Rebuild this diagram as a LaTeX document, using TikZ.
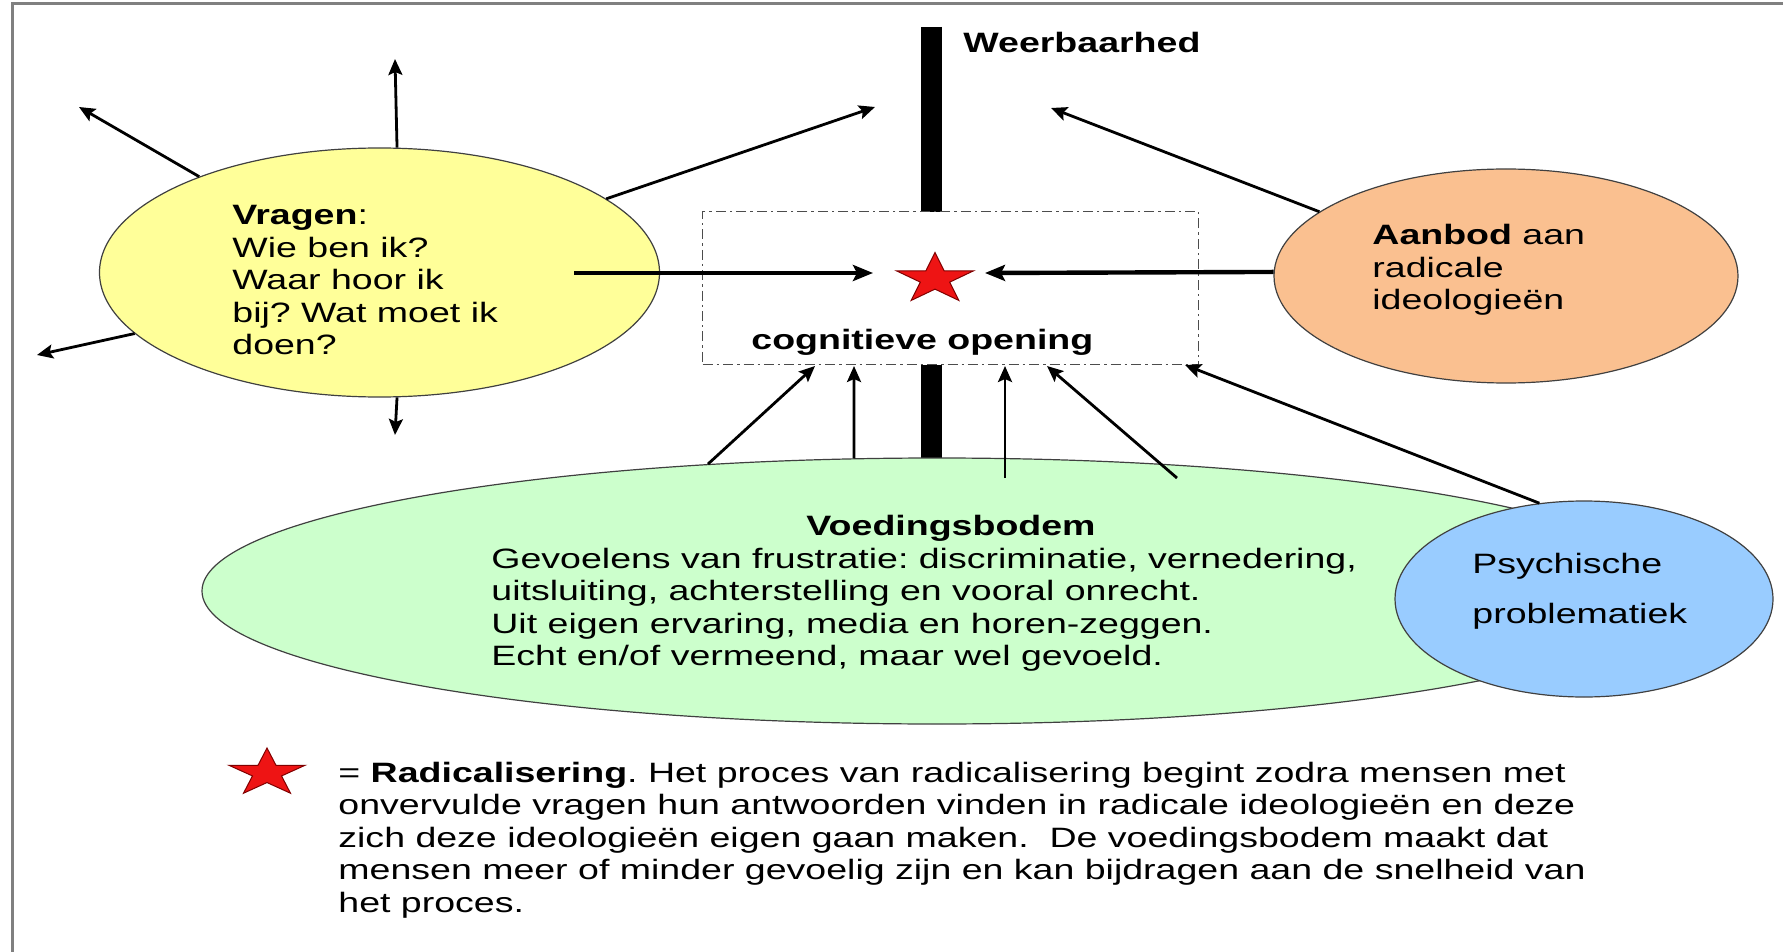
\documentclass[tikz,border=0pt]{standalone}
\usepackage{fontspec}
\setmainfont{Liberation Sans}[FakeStretch=1.34]
\usetikzlibrary{shapes.geometric,arrows.meta}
\definecolor{cyellow}{RGB}{255,255,153}
\definecolor{corange}{RGB}{250,192,144}
\definecolor{cgreen}{RGB}{204,255,204}
\definecolor{cblue}{RGB}{153,204,255}
\definecolor{cstar}{RGB}{238,20,20}
\newcommand\mlines[1]{\begin{tabular}[t]{@{}l@{}}#1\end{tabular}}
\frenchspacing
\begin{document}
\begin{tikzpicture}[x=0.5pt,y=-0.5pt,
  bubble/.style={ellipse, draw=black!75, line width=0.6pt, inner sep=0pt},
  txt/.style={anchor=base west, inner sep=0pt, font=\fontsize{14pt}{16.25pt}\selectfont},
  thinarrow/.style={line width=1.4pt, -{Stealth[length=8pt,width=7pt,inset=1.5pt]}},
  thickarrow/.style={line width=2.2pt, -{Stealth[length=10pt,width=8pt,inset=2pt]}},
  redstar/.style={star, star points=5, star point ratio=2.618, fill=cstar, draw=black!50!red, line width=0.5pt, inner sep=0pt, transform shape},
  dashbox/.style={draw=black!70, line width=0.7pt, dash pattern=on 5pt off 2pt on 1.2pt off 2pt, fill=white, inner sep=0pt, anchor=north west}
]
\useasboundingbox (0,0) rectangle (1783,952);
\draw[gray, line width=1.5pt] (12,952) -- (12,4) -- (1783,4);

% Weerbaarhed bar
\coordinate (bartop) at (931,27);
\coordinate (barbot) at (931,470);
\draw[line width=10.5pt] (bartop) -- (barbot);

% cognitive opening box
\node[dashbox, minimum width=248pt, minimum height=76.5pt] (cog) at (702,211) {};

% star
\begin{scope}[shift={(935,279)}, xscale=1.53]
  \node[redstar, minimum size=26.5pt] (star) at (0,0) {};
\end{scope}

% ellipses
\node[bubble, fill=cyellow, minimum width=280pt, minimum height=124.5pt] (vr) at (379.5,272.5) {};
\node[bubble, fill=corange, minimum width=232pt, minimum height=107pt] (ab) at (1506,276) {};
\node[bubble, fill=cgreen, minimum width=735pt, minimum height=133pt] (vb) at (937,591) {};
\node[bubble, fill=cblue, minimum width=189pt, minimum height=98pt] (ps) at (1584,599) {};

% texts
\node[txt] (weer) at (963,53) {\textbf{Weerbaarhed}};
\node[txt] (vrtext) at (232,225) {\mlines{\textbf{Vragen}:\\ Wie ben ik?\\ Waar hoor ik\\ bij? Wat moet ik\\ doen?}};
\node[txt] (abtext) at (1372,245) {\mlines{\textbf{Aanbod} aan\\ radicale\\ ideologieën}};
\node[txt] (cogtext) at (751,350) {\textbf{cognitieve opening}};
\node[txt, anchor=base] (vbtitle) at (951,535) {\textbf{Voedingsbodem}};
\node[txt] (vbtext) at (491,568) {\mlines{Gevoelens van frustratie: discriminatie, vernedering,\\ uitsluiting, achterstelling en vooral onrecht.\\ Uit eigen ervaring, media en horen-zeggen.\\ Echt en/of vermeend, maar wel gevoeld.}};
\node[txt, font=\fontsize{14pt}{25pt}\selectfont] (pstext) at (1472,573) {\mlines{Psychische\\ problematiek}};

% legend
\begin{scope}[shift={(267,773)}, xscale=1.6]
  \node[redstar, minimum size=25pt] (legstar) at (0,0) {};
\end{scope}
\node[txt] (legend) at (338,782) {\mlines{= \textbf{Radicalisering}. Het proces van radicalisering begint zodra mensen met\\ onvervulde vragen hun antwoorden vinden in radicale ideologieën en deze\\ zich deze ideologieën eigen gaan maken.\ \ De voedingsbodem maakt dat\\ mensen meer of minder gevoelig zijn en kan bijdragen aan de snelheid van\\ het proces.}};

% free ends
\coordinate (eUp) at (395,59);
\coordinate (eUL) at (79,107);
\coordinate (eUR) at (875,107);
\coordinate (eLL) at (37,355);
\coordinate (eDn) at (395,435);
\coordinate (sH) at (574,273);
\coordinate (eH) at (873,273);
\coordinate (eAbUp) at (1051,108);
\coordinate (eAbH) at (985,273);
\coordinate (g1) at (815,366);
\coordinate (g2) at (854,366);
\coordinate (s3) at (1005,478);
\coordinate (g3) at (1005,366);
\coordinate (s4) at (1177,478);
\coordinate (g4) at (1047,366);
\coordinate (gps) at (1185,365);

% arrows from Vragen
\draw[thinarrow] (vr.82.9) -- (eUp);
\draw[thinarrow] (vr.152.3) -- (eUL);
\draw[thinarrow] (vr.18.9) -- (eUR);
\draw[thinarrow] (vr.194.7) -- (eLL);
\draw[thinarrow] (vr.-82.9) -- (eDn);
\draw[thickarrow] (sH) -- (eH);

% arrows from Aanbod
\draw[thinarrow] (ab.161.4) -- (eAbUp);
\draw[thickarrow] (ab.179.3) -- (eAbH);

% arrows from Voedingsbodem
\draw[thinarrow] (vb.151.7) -- (g1);
\draw[thinarrow] (vb.122.2) -- (g2);
\draw[thinarrow] (s3) -- (g3);
\draw[thinarrow] (s4) -- (g4);

% arrow from Psychische problematiek
\draw[thinarrow] (ps.115.8) -- (gps);
\end{tikzpicture}
\end{document}
